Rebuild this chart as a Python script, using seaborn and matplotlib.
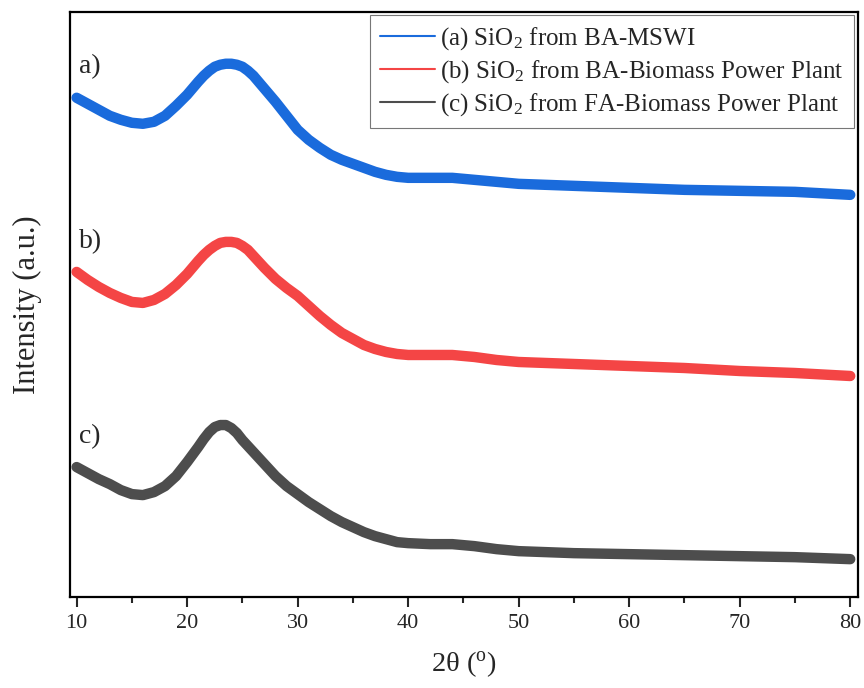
import numpy as np
import pandas as pd
import matplotlib
matplotlib.use("Agg")
import matplotlib.pyplot as plt
import seaborn as sns
from matplotlib.lines import Line2D
from matplotlib.ticker import MultipleLocator

two_theta = [10, 11, 12, 13, 14, 15, 16, 17, 18, 19, 20, 21, 21.5, 22, 22.5,
             23, 23.5, 24, 24.5, 25, 25.5, 26, 27, 28, 29, 30, 31, 32, 33, 34,
             35, 36, 37, 38, 39, 40, 42, 44, 46, 48, 50, 55, 60, 65, 70, 75, 80]

# stacked intensities (a.u., offsets included as in the figure)
int_a = [499, 493, 487, 481, 477, 474, 473, 475, 481, 491, 502, 515, 521, 526,
         530, 532, 533, 533, 532, 530, 526, 521, 508, 495, 481, 467, 457, 449,
         442, 437, 433, 429, 425, 422, 420, 419, 419, 419, 417, 415, 413, 411,
         409, 407, 406, 405, 402]
int_b = [325, 317, 310, 304, 299, 295, 294, 297, 303, 312, 323, 336, 342, 347,
         351, 354, 355, 355, 354, 351, 347, 341, 329, 318, 309, 301, 291, 281,
         272, 264, 258, 252, 248, 245, 243, 242, 242, 242, 240, 237, 235, 233,
         231, 229, 226, 224, 221]
int_c = [130, 124, 118, 113, 107, 103, 102, 105, 111, 121, 135, 150, 158, 165,
         170, 172, 172, 169, 164, 157, 151, 145, 133, 121, 111, 103, 95, 88,
         81, 75, 70, 65, 61, 58, 55, 54, 53, 53, 51, 48, 46, 44, 43, 42, 41,
         40, 38]

labels = [r"(a) SiO$_2$ from BA-MSWI",
          r"(b) SiO$_2$ from BA-Biomass Power Plant",
          r"(c) SiO$_2$ from FA-Biomass Power Plant"]
tags = ["a)", "b)", "c)"]
colors = ["#1a6bdc", "#f44545", "#4d4d4d"]

sns.set_style("white")
plt.rcParams['font.family'] = ['Liberation Serif', 'DejaVu Serif']
plt.rcParams['mathtext.fontset'] = 'custom'
plt.rcParams['mathtext.rm'] = 'Liberation Serif'
plt.rcParams['mathtext.it'] = 'Liberation Serif:italic'

fig = plt.figure(figsize=(8.64, 6.88), dpi=100)
ax = fig.add_axes([0.081, 0.132, 0.912, 0.851])

for vals, col in zip([int_a, int_b, int_c], colors):
    df = pd.DataFrame({"2theta": two_theta, "I": vals})
    sns.lineplot(data=df, x="2theta", y="I", color=col, lw=7.5, ax=ax,
                 legend=False)

ax.set_xlim(9.4, 80.7)
ax.set_ylim(0, 585)
ax.xaxis.set_major_locator(MultipleLocator(10))
ax.xaxis.set_minor_locator(MultipleLocator(5))
ax.set_yticks([])
ax.tick_params(axis='x', which='major', direction='out', length=7, width=1.5,
               labelsize=16, bottom=True, top=False, pad=5)
ax.tick_params(axis='x', which='minor', direction='out', length=4, width=1.5,
               bottom=True, top=False)
for sp in ax.spines.values():
    sp.set_visible(True)
    sp.set_color('black')
    sp.set_linewidth(1.6)

ax.set_xlabel(r"2θ ($^{\rm o}$)", fontsize=20.5, labelpad=12)
ax.set_ylabel("Intensity (a.u.)", fontsize=22, labelpad=20)

for tag, yv in zip(tags, [530, 355, 160]):
    ax.text(10.2, yv, tag, fontsize=20, va='center', ha='left')

handles = [Line2D([0], [0], color=c, lw=1.5) for c in colors]
leg = ax.legend(handles, labels, loc='upper right', fontsize=18,
                frameon=True, fancybox=False, handlelength=2.2,
                handletextpad=0.2, borderpad=0.4, labelspacing=0.25,
                borderaxespad=0.15)
leg.get_frame().set_edgecolor('#555555')
leg.get_frame().set_linewidth(0.8)

fig.savefig("out.png", dpi=100)
